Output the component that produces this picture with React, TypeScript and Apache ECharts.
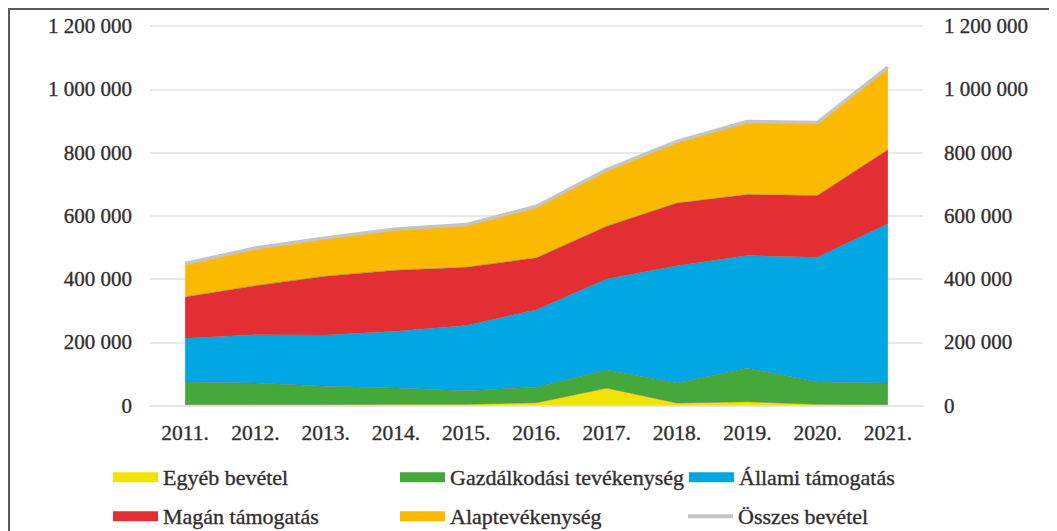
import React, { useEffect, useRef } from "react";
import * as echarts from "echarts";

const years = ["2011.", "2012.", "2013.", "2014.", "2015.", "2016.", "2017.", "2018.", "2019.", "2020.", "2021."];
const egyeb = [3000, 3000, 3000, 4000, 4000, 9000, 55000, 8000, 12000, 4000, 3000];
const gazdalkodasi = [71000, 68000, 58000, 51000, 43000, 49000, 57000, 63000, 106000, 70000, 68000];
const allami = [139000, 153000, 162000, 180000, 206000, 245000, 288000, 371000, 356000, 395000, 504000];
const magan = [130000, 155000, 186000, 193000, 184000, 164000, 167000, 198000, 193000, 195000, 234000];
const alap = [106000, 119000, 121000, 130000, 135000, 163000, 179000, 195000, 231000, 231000, 261000];
const osszes = [449000, 498000, 530000, 558000, 572000, 630000, 746000, 835000, 898000, 895000, 1070000];

const FONT = "'Liberation Serif', 'Times New Roman', serif";
const TXT = "#332d2e";

const fmt = (v: number) => String(v).replace(/\B(?=(\d{3})+(?!\d))/g, " ");

export default function App() {
  const ref = useRef<HTMLDivElement>(null);
  useEffect(() => {
    document.body.style.overflow = "hidden";
    const chart = echarts.init(ref.current!, null, { renderer: "svg" });
    const edge = { width: 0.8, color: "rgba(110,110,110,0.6)" };
    const area = (name: string, data: number[], color: string) => ({
      name,
      type: "line",
      stack: "total",
      data,
      showSymbol: false,
      symbol: "none",
      lineStyle: edge,
      itemStyle: { color },
      areaStyle: { color, opacity: 1 },
    });
    const txt = (fs: number) => ({ fontFamily: FONT, fontSize: fs, color: TXT, textBorderColor: TXT, textBorderWidth: 0.35 });
    const mkLegend = (name: string, left: number, top: number, h = 10) => ({
      data: [{ name, icon: "rect" }],
      left,
      top,
      itemWidth: 45,
      itemHeight: h,
      itemGap: 0,
      textStyle: txt(22),
      padding: 0,
      selectedMode: false,
    });
    const rowA = 456;
    const rowB = 495;
    chart.setOption({
      animation: false,
      textStyle: { fontFamily: FONT },
      grid: { left: 140, right: 134, top: 16, bottom: 125.5, containLabel: false },
      legend: [
        mkLegend("Egyéb bevétel", 103, rowA),
        mkLegend("Gazdálkodási tevékenység", 390, rowA),
        mkLegend("Állami támogatás", 679, rowA),
        mkLegend("Magán támogatás", 103, rowB),
        mkLegend("Alaptevékenység", 390, rowB),
        mkLegend("Összes bevétel", 678, rowB, 4),
      ],
      xAxis: {
        type: "category",
        data: years,
        boundaryGap: true,
        axisLine: { show: true, lineStyle: { color: "#e6e6e6", width: 2 } },
        axisTick: { show: false },
        axisLabel: { ...txt(21.5), margin: 16 },
      },
      yAxis: [
        {
          type: "value",
          min: 0,
          max: 1200000,
          interval: 200000,
          position: "left",
          axisLine: { show: false },
          axisTick: { show: false },
          splitLine: { lineStyle: { color: "#e8e8e8", width: 2 } },
          axisLabel: { ...txt(21), margin: 18, formatter: fmt },
        },
        {
          type: "value",
          min: 0,
          max: 1200000,
          interval: 200000,
          position: "right",
          axisLine: { show: false },
          axisTick: { show: false },
          splitLine: { show: false },
          axisLabel: { ...txt(21), margin: 21, formatter: fmt },
        },
      ],
      series: [
        area("Egyéb bevétel", egyeb, "#f3e300"),
        area("Gazdálkodási tevékenység", gazdalkodasi, "#45a83b"),
        area("Állami támogatás", allami, "#00a7e3"),
        area("Magán támogatás", magan, "#e32e33"),
        area("Alaptevékenység", alap, "#fbb900"),
        {
          name: "Összes bevétel",
          type: "line",
          data: osszes,
          showSymbol: false,
          symbol: "none",
          lineStyle: { color: "#c4c4c4", width: 3.5 },
          itemStyle: { color: "#c4c4c4" },
          z: 5,
        },
      ],
    });
    return () => chart.dispose();
  }, []);
  return (
    <div
      style={{
        borderTop: "2px solid #5a5a5a",
        borderLeft: "2px solid #5a5a5a",
        width: 1060,
        height: 540,
        overflow: "hidden",
      }}
    >
      <div ref={ref} style={{ width: 1047, height: 521 }} />
    </div>
  );
}
